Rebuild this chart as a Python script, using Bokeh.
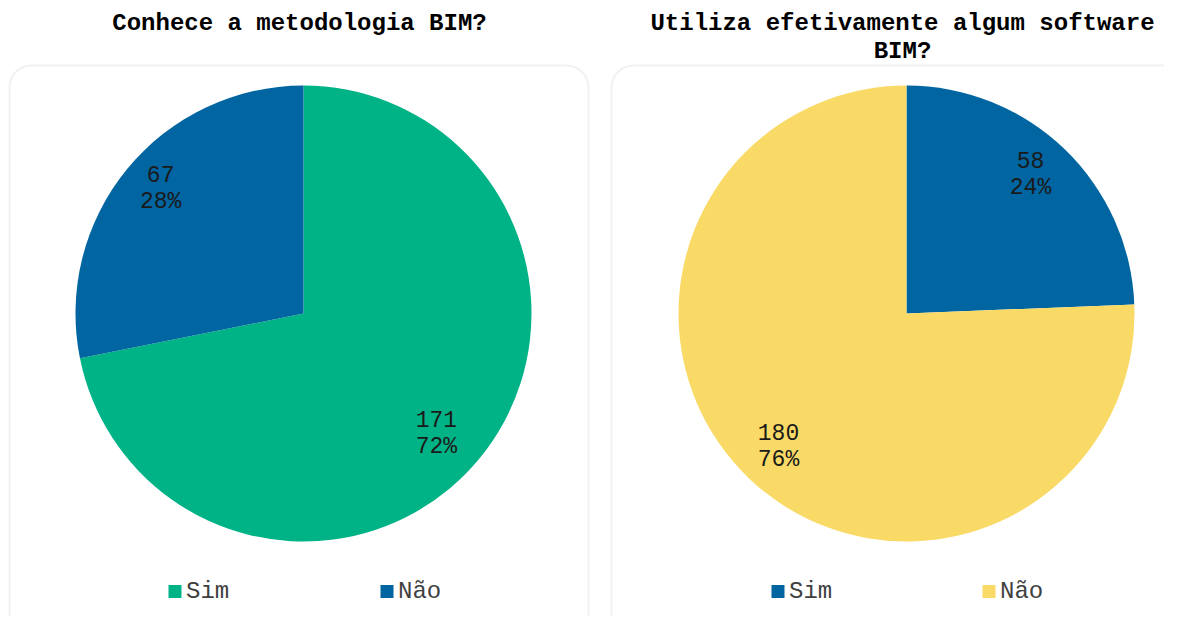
import math
from bokeh.plotting import figure
from bokeh.models import Range1d, BoxAnnotation, ColumnDataSource
from bokeh.core.properties import value
from bokeh.embed import file_html
from bokeh.resources import INLINE

# ---- data ----
categories = ["Sim", "Não"]
conhece_values = [171, 67]
utiliza_values = [58, 180]
conhece_colors = ["#00B386", "#0065A1"]
utiliza_colors = ["#0065A1", "#FADA66"]
title_left = "Conhece a metodologia BIM?"
title_right_1 = "Utiliza efetivamente algum software"
title_right_2 = "BIM?"

FONT = "Liberation Mono"
W, H = 1164, 616

def Y(py):
    # picture pixel y -> data y (upwards)
    return H - py

p = figure(width=W, height=H, output_backend="svg", toolbar_location=None,
           x_range=Range1d(0, W), y_range=Range1d(0, H),
           min_border=0, outline_line_color=None)
p.axis.visible = False
p.grid.visible = False
p.background_fill_color = "white"
p.border_fill_color = "white"

# panel boxes
for left, right in [(9, 588), (611, 1195)]:
    p.add_layout(BoxAnnotation(left=left, right=right, top=Y(65), bottom=Y(660),
                               border_radius=22, fill_alpha=0,
                               line_color="#D2D2D2", line_width=2))

R = 228

def pie(cx, cy, vals, colors, leg_x, nudges):
    total = sum(vals)
    starts, ends, lx, ly, vtxt, ptxt = [], [], [], [], [], []
    cum = 0
    for v, (nx, ny) in zip(vals, nudges):
        a0 = math.pi / 2 - 2 * math.pi * cum / total
        a1 = math.pi / 2 - 2 * math.pi * (cum + v) / total
        mid = math.pi / 2 - 2 * math.pi * (cum + v / 2) / total
        starts.append(a0); ends.append(a1)
        lx.append(cx + 0.81 * R * math.cos(mid) + nx)
        ly.append(cy + 0.81 * R * math.sin(mid) - ny)
        vtxt.append(str(v))
        ptxt.append(f"{round(v / total * 100)}%")
        cum += v
    src = ColumnDataSource(dict(start=starts, end=ends, color=colors,
                                lx=lx, ly=ly, v=vtxt, pct=ptxt,
                                cat=categories, legx=leg_x))
    p.wedge(x=cx, y=cy, radius=R, start_angle="start", end_angle="end",
            direction="clock", fill_color="color", line_color=None, source=src)
    p.text(x="lx", y="ly", text="v", source=src, text_font=value(FONT),
           text_font_size="23px", text_color="#1A1A1A", text_align="center",
           text_baseline="middle", y_offset=-14)
    p.text(x="lx", y="ly", text="pct", source=src, text_font=value(FONT),
           text_font_size="23px", text_color="#1A1A1A", text_align="center",
           text_baseline="middle", y_offset=14)
    # legend
    p.scatter(x="legx", y=Y(591), marker="square", size=13, fill_color="color",
              line_color=None, source=src)
    p.text(x="legx", y=Y(591), text="cat", source=src, text_font=value(FONT),
           text_font_size="24px", text_color="#404040", text_align="left",
           text_baseline="middle", x_offset=11)

pie(303, Y(313), conhece_values, conhece_colors, [174.5, 386.5],
    [(-10, 2), (0, -8)])
pie(906, Y(313), utiliza_values, utiliza_colors, [777.5, 988.5],
    [(-4, -6), (0, -1)])

# titles
p.text(x=[299], y=[Y(23)], text=[title_left], text_font=value(FONT),
       text_font_size="24px", text_font_style="bold", text_color="black",
       text_align="center", text_baseline="middle")
p.text(x=[902, 902], y=[Y(23), Y(51)], text=[title_right_1, title_right_2],
       text_font=value(FONT), text_font_size="24px", text_font_style="bold",
       text_color="black", text_align="center", text_baseline="middle")

open("out.html", "w").write(file_html(p, INLINE))
